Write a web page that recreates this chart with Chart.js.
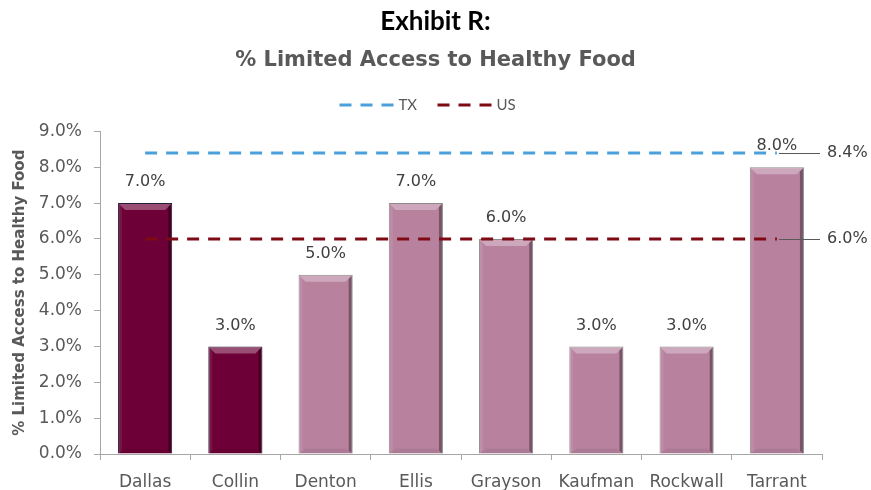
<!DOCTYPE html>
<html>
<head>
<meta charset="utf-8">
<script src="https://cdn.jsdelivr.net/npm/chart.js@4/dist/chart.umd.min.js"></script>
<style>
html,body{margin:0;padding:0;background:#fff;}
#wrap{width:871px;height:490px;position:relative;}
</style>
</head>
<body>
<div id="wrap"><canvas id="c" width="871" height="490"></canvas></div>
<script>
const categories = ['Dallas', 'Collin', 'Denton', 'Ellis', 'Grayson', 'Kaufman', 'Rockwall', 'Tarrant'];
const limitedAccess = [7.0, 3.0, 5.0, 7.0, 6.0, 3.0, 3.0, 8.0];
const txValue = 8.4;
const usValue = 6.0;
const yTicks = [0, 1, 2, 3, 4, 5, 6, 7, 8, 9];
const titleText = 'Exhibit R:';
const subtitleText = '% Limited Access to Healthy Food';
const yAxisTitle = '% Limited Access to Healthy Food';
const legendNames = ['TX', 'US'];

const darkFill = '#6D0036', lightFill = '#B8829F';
const txColor = '#4A9FDC', usColor = '#7E0A14';
const barFills = categories.map((c, i) => i < 2 ? darkFill : lightFill);
const barBorders = categories.map((c, i) => i < 2 ? '#22203E' : '#8A8A8A');

const fmt = v => v.toFixed(1) + '%';

const bevelPlugin = {
  id: 'bevel',
  afterDatasetDraw(chart, args) {
    if (args.index !== 0) return;
    const ctx = chart.ctx;
    args.meta.data.forEach((bar) => {
      const p = bar.getProps(['x', 'y', 'base', 'width'], true);
      const l = p.x - p.width / 2, r = p.x + p.width / 2, t = p.y, b = p.base;
      const d = 7;
      ctx.save();
      ctx.beginPath();
      ctx.moveTo(l + 1, t + 1); ctx.lineTo(r - 1, t + 1); ctx.lineTo(r - d, t + d); ctx.lineTo(l + d, t + d); ctx.closePath();
      ctx.fillStyle = 'rgba(255,255,255,0.3)'; ctx.fill();
      ctx.beginPath();
      ctx.moveTo(r - 1, t + 1); ctx.lineTo(r - 1, b); ctx.lineTo(r - 4, b - 3); ctx.lineTo(r - 4, t + 4); ctx.closePath();
      ctx.fillStyle = 'rgba(0,0,0,0.35)'; ctx.fill();
      ctx.beginPath();
      ctx.moveTo(l + 1, t + 1); ctx.lineTo(l + 1, b); ctx.lineTo(l + 4, b - 3); ctx.lineTo(l + 4, t + 4); ctx.closePath();
      ctx.fillStyle = 'rgba(255,255,255,0.08)'; ctx.fill();
      ctx.beginPath();
      ctx.moveTo(l + 1, b); ctx.lineTo(r - 1, b); ctx.lineTo(r - d, b - 5); ctx.lineTo(l + d, b - 5); ctx.closePath();
      ctx.fillStyle = 'rgba(0,0,0,0.06)'; ctx.fill();
      ctx.restore();
    });
  },
  afterDatasetsDraw(chart) {
    const ctx = chart.ctx;
    const meta = chart.getDatasetMeta(0);
    ctx.save();
    ctx.font = '16px "DejaVu Sans"';
    ctx.fillStyle = '#404040';
    ctx.textAlign = 'center';
    ctx.textBaseline = 'middle';
    meta.data.forEach((bar, i) => {
      ctx.fillText(fmt(limitedAccess[i]), bar.x, bar.y - 21);
    });
    const ys = chart.scales.y;
    const ca = chart.chartArea;
    const lastX = meta.data[meta.data.length - 1].x;
    [txValue, usValue].forEach(v => {
      const py = Math.round(ys.getPixelForValue(v));
      ctx.strokeStyle = '#595959';
      ctx.lineWidth = 1;
      ctx.beginPath();
      ctx.moveTo(lastX + 2, py + 0.5);
      ctx.lineTo(ca.right - 2, py + 0.5);
      ctx.stroke();
      ctx.textAlign = 'left';
      ctx.fillStyle = '#404040';
      ctx.fillText(fmt(v), ca.right + 5, py);
    });
    // legend
    const cx = chart.width / 2;
    const ly = 105;
    const items = [
      { name: legendNames[0], color: txColor, x0: cx - 96 },
      { name: legendNames[1], color: usColor, x0: cx + 2 }
    ];
    ctx.font = '15px Lato';
    ctx.textBaseline = 'middle';
    items.forEach(it => {
      ctx.strokeStyle = it.color;
      ctx.lineWidth = 3;
      ctx.setLineDash([12, 9]);
      ctx.beginPath();
      ctx.moveTo(it.x0, ly);
      ctx.lineTo(it.x0 + 57, ly);
      ctx.stroke();
      ctx.setLineDash([]);
      ctx.fillStyle = '#595959';
      ctx.textAlign = 'left';
      ctx.fillText(it.name, it.x0 + 59, ly);
    });
    ctx.restore();
  }
};

new Chart(document.getElementById('c'), {
  type: 'bar',
  data: {
    labels: categories,
    datasets: [
      {
        label: 'County',
        data: limitedAccess,
        backgroundColor: barFills,
        borderColor: barBorders,
        borderWidth: 1,
        barPercentage: 0.6,
        categoryPercentage: 1.0,
        order: 2
      },
      {
        type: 'line',
        label: legendNames[0],
        data: categories.map(() => txValue),
        borderColor: txColor,
        borderWidth: 3,
        borderDash: [12, 9],
        pointRadius: 0,
        fill: false,
        order: 1
      },
      {
        type: 'line',
        label: legendNames[1],
        data: categories.map(() => usValue),
        borderColor: usColor,
        borderWidth: 3,
        borderDash: [12, 9],
        pointRadius: 0,
        fill: false,
        order: 0
      }
    ]
  },
  options: {
    responsive: false,
    animation: false,
    layout: { padding: { left: 0, right: 0, top: 0, bottom: 0 } },
    plugins: {
      tooltip: { enabled: false },
      legend: { display: false },
      title: {
        display: true,
        text: titleText,
        color: '#000000',
        font: { family: 'Lato', size: 26, weight: 'bold' },
        padding: { top: 6, bottom: 11 }
      },
      subtitle: {
        display: true,
        text: subtitleText,
        color: '#595959',
        font: { family: '"DejaVu Sans"', size: 21, weight: 'bold' },
        padding: { top: 0, bottom: 58 }
      }
    },
    scales: {
      x: {
        afterFit: axis => { axis.height = 36; },
        grid: { display: true, drawOnChartArea: false, offset: true, color: '#A6A6A6', tickLength: 6 },
        border: { display: true, color: '#A6A6A6' },
        ticks: { color: '#595959', font: { family: '"DejaVu Sans"', size: 17 }, padding: 12 }
      },
      y: {
        min: 0,
        max: 9,
        afterBuildTicks: axis => { axis.ticks = yTicks.map(v => ({ value: v })); },
        afterFit: axis => { axis.width = 100; },
        grid: { display: true, drawOnChartArea: false, color: '#A6A6A6', tickLength: 6 },
        border: { display: true, color: '#A6A6A6' },
        ticks: { color: '#595959', font: { family: '"DejaVu Sans"', size: 17 }, padding: 12, callback: v => fmt(v) },
        title: {
          display: true,
          text: yAxisTitle,
          color: '#595959',
          font: { family: '"DejaVu Sans"', size: 15, weight: 'bold' },
          padding: { top: 11, bottom: 4 }
        }
      },
      y2: {
        position: 'right',
        min: 0,
        max: 9,
        afterFit: axis => { axis.width = 49; },
        grid: { display: false },
        border: { display: false },
        ticks: { display: false }
      }
    }
  },
  plugins: [bevelPlugin]
});
</script>
</body>
</html>
